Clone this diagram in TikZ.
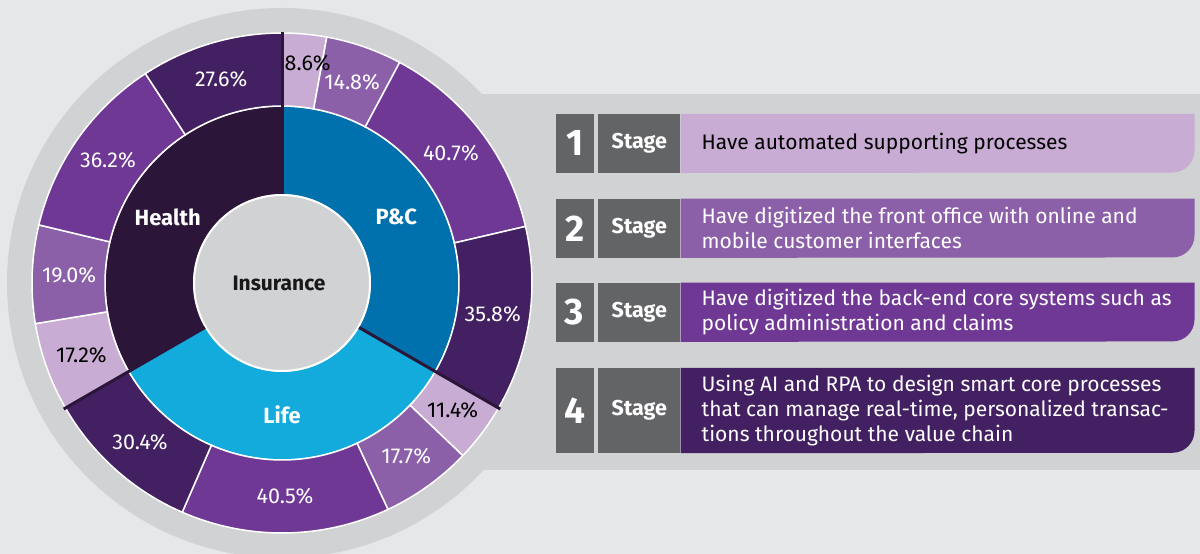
\documentclass[tikz,border=0pt]{standalone}
\usepackage{fontspec}
\setmainfont{Fira Sans}
\usetikzlibrary{positioning, calc}
\definecolor{paper}{HTML}{E6E7E9}
\definecolor{panel}{HTML}{D1D2D4}
\definecolor{slate}{HTML}{636466}
\definecolor{lilac}{HTML}{C9ACD4}
\definecolor{mauve}{HTML}{8B60A8}
\definecolor{violet}{HTML}{6F3894}
\definecolor{plum}{HTML}{432061}
\definecolor{aubergine}{HTML}{2B1539}
\definecolor{pcblue}{HTML}{0071AD}
\definecolor{lifeblue}{HTML}{13ABDB}

\begin{document}
\begin{tikzpicture}[x=1pt, y=1pt,
		seg/.style={draw=white, line width=1.5pt},
		seam/.style={draw=aubergine, line width=3pt},
		pct/.style={font=\fontsize{21.5}{24}\selectfont, text=white, inner sep=0pt},
		pctdark/.style={pct, text=black},
		sectlabel/.style={font=\fontsize{22}{26}\selectfont\bfseries, text=white},
		numbox/.style={fill=slate, text=white, font=\fontsize{37}{40}\selectfont\bfseries, minimum width=38pt, minimum height=58.7pt, inner sep=0pt},
		stagebox/.style={fill=slate, text=white, font=\fontsize{21.5}{24}\selectfont\bfseries, minimum width=82pt, minimum height=58.7pt, inner sep=0pt},
		desc/.style={font=\fontsize{21}{25}\selectfont, text=white, align=left, inner sep=0pt}]
		\useasboundingbox (0,0) rectangle (1200,554);
		\clip (0,0) rectangle (1200,554);
		% background, panel behind the stages and grey disc
		\fill[paper] (0,0) rectangle (1200,554);
		\fill[panel] (480,84) rectangle (1200,460);
		\fill[panel] (282,271) circle (275);
		\begin{scope}[shift={(282,271)}]
			% middle ring - lines of business
			\draw[seg, fill=pcblue] (90:88) arc[start angle=90, end angle=-30, radius=88] -- (-30:177) arc[start angle=-30, end angle=90, radius=177] -- cycle;
			\draw[seg, fill=lifeblue] (-30:88) arc[start angle=-30, end angle=-150, radius=88] -- (-150:177) arc[start angle=-150, end angle=-30, radius=177] -- cycle;
			\draw[seg, fill=aubergine] (210:88) arc[start angle=210, end angle=90, radius=88] -- (90:177) arc[start angle=90, end angle=210, radius=177] -- cycle;
			% outer ring - P&C
			\draw[seg, fill=lilac] (90:177) arc[start angle=90, end angle=79.68, radius=177] -- (79.68:250) arc[start angle=79.68, end angle=90, radius=250] -- cycle;
			\draw[seg, fill=mauve] (79.68:177) arc[start angle=79.68, end angle=61.92, radius=177] -- (61.92:250) arc[start angle=61.92, end angle=79.68, radius=250] -- cycle;
			\draw[seg, fill=violet] (61.92:177) arc[start angle=61.92, end angle=13.08, radius=177] -- (13.08:250) arc[start angle=13.08, end angle=61.92, radius=250] -- cycle;
			\draw[seg, fill=plum] (13.08:177) arc[start angle=13.08, end angle=-30, radius=177] -- (-30:250) arc[start angle=-30, end angle=13.08, radius=250] -- cycle;
			% outer ring - Life
			\draw[seg, fill=lilac] (-30:177) arc[start angle=-30, end angle=-43.68, radius=177] -- (-43.68:250) arc[start angle=-43.68, end angle=-30, radius=250] -- cycle;
			\draw[seg, fill=mauve] (-43.68:177) arc[start angle=-43.68, end angle=-64.92, radius=177] -- (-64.92:250) arc[start angle=-64.92, end angle=-43.68, radius=250] -- cycle;
			\draw[seg, fill=violet] (-64.92:177) arc[start angle=-64.92, end angle=-113.52, radius=177] -- (-113.52:250) arc[start angle=-113.52, end angle=-64.92, radius=250] -- cycle;
			\draw[seg, fill=plum] (-113.52:177) arc[start angle=-113.52, end angle=-150, radius=177] -- (-150:250) arc[start angle=-150, end angle=-113.52, radius=250] -- cycle;
			% outer ring - Health
			\draw[seg, fill=lilac] (210:177) arc[start angle=210, end angle=189.36, radius=177] -- (189.36:250) arc[start angle=189.36, end angle=210, radius=250] -- cycle;
			\draw[seg, fill=mauve] (189.36:177) arc[start angle=189.36, end angle=166.56, radius=177] -- (166.56:250) arc[start angle=166.56, end angle=189.36, radius=250] -- cycle;
			\draw[seg, fill=violet] (166.56:177) arc[start angle=166.56, end angle=123.12, radius=177] -- (123.12:250) arc[start angle=123.12, end angle=166.56, radius=250] -- cycle;
			\draw[seg, fill=plum] (123.12:177) arc[start angle=123.12, end angle=90, radius=177] -- (90:250) arc[start angle=90, end angle=123.12, radius=250] -- cycle;
			% centre disc
			\draw[fill=panel, draw=white, line width=2pt] (0,0) circle (88);
			% dark seams between lines of business
			\draw[seam] (90:89) -- (90:251);
			\draw[seam] (-30:89) -- (-30:252);
			\draw[seam] (210:89) -- (210:252);
			% labels
			\node[font=\fontsize{21}{24}\selectfont\bfseries, text=black!90] (ins) at (-3,0) {Insurance};
			\node[sectlabel] (pc) at (30:132) {P\&C};
			\node[sectlabel] (life) at (-90:132) {Life};
			\node[sectlabel] (health) at (150:132) {Health};
			\node[pctdark, anchor=west] (pc1) at (2.5,220) {8.6\%};
			\node[pct] (pc2) at (70.8:213) {14.8\%};
			\node[pct] (pc3) at (37.5:213) {40.7\%};
			\node[pct] (pc4) at (-8.5:213) {35.8\%};
			\node[pctdark] (life1) at (-36.8:213) {11.4\%};
			\node[pct] (life2) at (-54.3:213) {17.7\%};
			\node[pct] (life3) at (-89.2:213) {40.5\%};
			\node[pct] (life4) at (-131.8:213) {30.4\%};
			\node[pctdark] (health1) at (199.7:213) {17.2\%};
			\node[pct] (health2) at (178:213) {19.0\%};
			\node[pct] (health3) at (144.8:213) {36.2\%};
			\node[pct] (health4) at (106.6:213) {27.6\%};
		\end{scope}
		% stage 1
		\node[numbox] (n1) at (574.6,410.6) {1};
		\node[stagebox, right=4.3pt of n1] (s1) {Stage};
		\fill[lilac] (s1.north east) -- ++(514,0) -- ++(0,-36.7) arc[start angle=0, end angle=-90, radius=22] -- (s1.south east) -- cycle;
		\node[desc, text=black, right=21pt of s1] (d1) {Have automated supporting processes};
		% stage 2
		\node[numbox] (n2) at (574.6,325.7) {2};
		\node[stagebox, right=4.3pt of n2] (s2) {Stage};
		\fill[mauve] (s2.north east) -- ++(514,0) -- ++(0,-36.7) arc[start angle=0, end angle=-90, radius=22] -- (s2.south east) -- cycle;
		\node[desc, right=21pt of s2] (d2) {Have digitized the front office with online and\\mobile customer interfaces};
		% stage 3
		\node[numbox] (n3) at (574.6,241.7) {3};
		\node[stagebox, right=4.3pt of n3] (s3) {Stage};
		\fill[violet] (s3.north east) -- ++(514,0) -- ++(0,-36.7) arc[start angle=0, end angle=-90, radius=22] -- (s3.south east) -- cycle;
		\node[desc, right=21pt of s3] (d3) {Have digitized the back-end core systems such as\\policy administration and claims};
		% stage 4
		\node[numbox, minimum height=85pt] (n4) at (574.6,143.5) {4};
		\node[stagebox, minimum height=85pt, right=4.3pt of n4] (s4) {Stage};
		\fill[plum] (s4.north east) -- ++(514,0) -- ++(0,-63) arc[start angle=0, end angle=-90, radius=22] -- (s4.south east) -- cycle;
		\node[desc, right=21pt of s4] (d4) {Using AI and RPA to design smart core processes\\that can manage real-time, personalized transac-\\tions throughout the value chain};
	\end{tikzpicture}
\end{document}
